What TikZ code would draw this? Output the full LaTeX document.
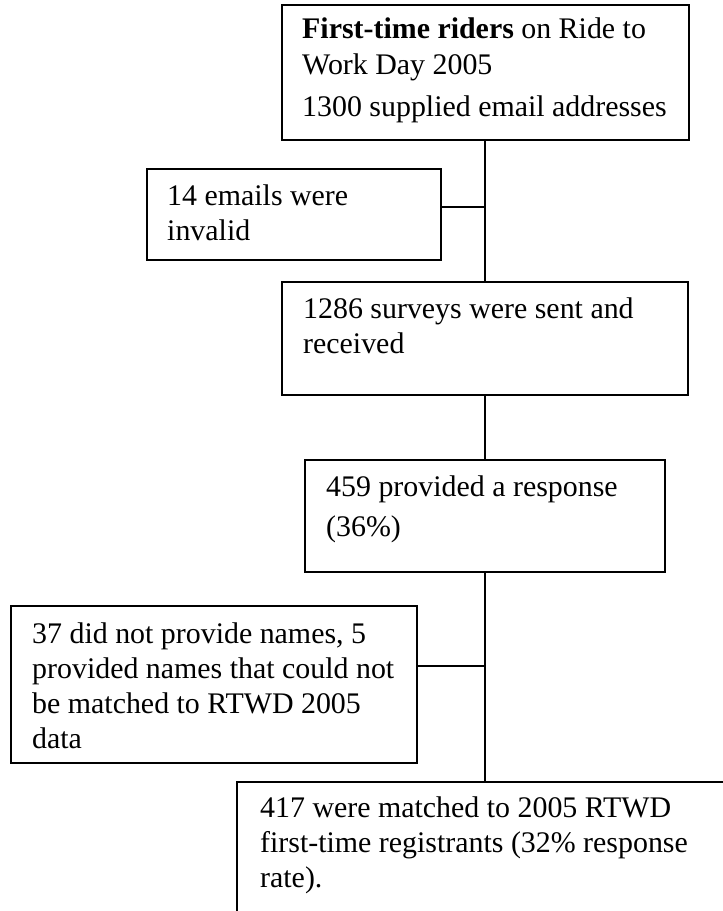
\documentclass[tikz,border=0pt]{standalone}
\usepackage{fontspec}
\setmainfont{Liberation Serif}
\begin{document}
\begin{tikzpicture}[x=1pt,y=-1pt,
  box/.style={draw=black, line width=1.3pt, rectangle, anchor=north west, inner sep=0pt, outer sep=0pt},
  txt/.style={anchor=base west, inner sep=0pt, font=\fontsize{29.9}{34}\selectfont},
  link/.style={draw=black, line width=1.3pt}]
\useasboundingbox (0,0) rectangle (723,911);
\clip (0,0) rectangle (723,911);

% boxes of the main flow and the two side boxes
\node[box, minimum width=407pt, minimum height=135pt] (b1) at (282,5) {};
\node[box, minimum width=294pt, minimum height=91pt]  (b14) at (147,169) {};
\node[box, minimum width=406pt, minimum height=113pt] (b2) at (282,282) {};
\node[box, minimum width=360pt, minimum height=112pt] (b459) at (305,460) {};
\node[box, minimum width=406pt, minimum height=157pt] (b37) at (11,606) {};
\node[box, minimum width=496pt, minimum height=140pt] (b417) at (237,782) {};

% junctions where the side boxes meet the trunk
\coordinate (j1) at (485,207);
\coordinate (j2) at (485,666);

% text lines
\node[txt] (t1a) at (302,38)  {\textbf{First-time riders} on Ride to};
\node[txt] (t1b) at (302,74)  {Work Day 2005};
\node[txt] (t1c) at (302,116) {1300 supplied email addresses};

\node[txt] (t14a) at (167,205) {14 emails were};
\node[txt] (t14b) at (167,240) {invalid};

\node[txt] (t2a) at (303,318) {1286 surveys were sent and};
\node[txt] (t2b) at (303,353) {received};

\node[txt] (t4a) at (326,496) {459 provided a response};
\node[txt] (t4b) at (326,536) {(36\%)};

\node[txt] (t37a) at (32,643) {37 did not provide names, 5};
\node[txt] (t37b) at (32,678) {provided names that could not};
\node[txt] (t37c) at (32,713) {be matched to RTWD 2005};
\node[txt] (t37d) at (32,748) {data};

\node[txt] (t5a) at (260,817) {417 were matched to 2005 RTWD};
\node[txt] (t5b) at (260,852) {first-time registrants (32\% response};
\node[txt] (t5c) at (260,887) {rate).};

% connectors
\draw[link] (b1.south -| j1) -- (b2.north -| j1);
\draw[link] (j1 -| b14.east) -- (j1);
\draw[link] (b2.south -| j1) -- (b459.north -| j1);
\draw[link] (b459.south -| j2) -- (b417.north -| j2);
\draw[link] (j2 -| b37.east) -- (j2);
\end{tikzpicture}
\end{document}
